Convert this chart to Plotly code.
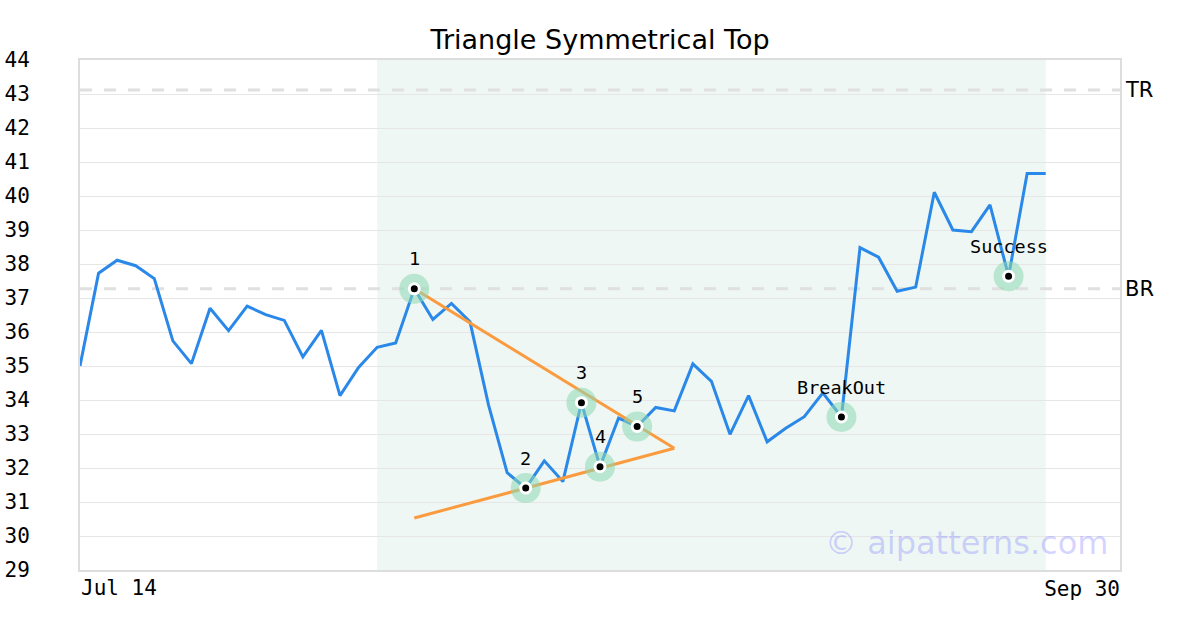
import plotly.graph_objects as go

# ---- data ----
title_text = "Triangle Symmetrical Top"
first_label = "Jul 14"
last_label = "Sep 30"
axis_end_index = 56  # business days from Jul 14 to Sep 30

prices = [35.00, 37.73, 38.11, 37.95, 37.57, 35.74, 35.07, 36.70, 36.04, 36.76,
          36.51, 36.34, 35.27, 36.05, 34.13, 34.96, 35.55, 35.68, 37.27, 36.37,
          36.84, 36.30, 33.85, 31.86, 31.41, 32.21, 31.60, 33.92, 32.04, 33.47,
          33.22, 33.78, 33.68, 35.06, 34.55, 32.99, 34.13, 32.77, 33.17, 33.51,
          34.21, 33.50, 38.48, 38.20, 37.20, 37.32, 40.11, 39.00, 38.95, 39.74,
          37.64, 40.66, 40.66]
x_idx = list(range(len(prices)))

TR = 43.12
BR = 37.27
zone_start, zone_end = 16, 52

point_idx = [18, 24, 27, 28, 30, 41, 50]
point_labels = ["1", "2", "3", "4", "5", "BreakOut", "Success"]

upper_x = [18, 32]
upper_y = [37.27, 32.58]
lower_x = [18, 32]
lower_y = [30.53, 32.58]

y_min, y_max = 29, 44
y_ticks = list(range(29, 45))

# ---- styles ----
BLUE = "#2a88e8"
ORANGE = "#fb9b40"
MONO = "DejaVu Sans Mono"
SANS = "DejaVu Sans"

fig = go.Figure()

fig.add_trace(go.Scatter(x=x_idx, y=prices, mode="lines",
                         line=dict(color=BLUE, width=3), hoverinfo="skip"))
fig.add_trace(go.Scatter(x=upper_x, y=upper_y, mode="lines",
                         line=dict(color=ORANGE, width=3), hoverinfo="skip"))
fig.add_trace(go.Scatter(x=lower_x, y=lower_y, mode="lines",
                         line=dict(color=ORANGE, width=3), hoverinfo="skip"))

px_ = point_idx
py_ = [prices[i] for i in point_idx]
fig.add_trace(go.Scatter(x=px_, y=py_, mode="markers",
                         marker=dict(size=30, color="rgba(140,217,179,0.55)", line=dict(width=0)),
                         hoverinfo="skip"))
fig.add_trace(go.Scatter(x=px_, y=py_, mode="markers",
                         marker=dict(size=10, color="black", line=dict(width=3, color="white")),
                         hoverinfo="skip"))

for xi, yi, lab in zip(px_, py_, point_labels):
    fig.add_annotation(x=xi, y=yi, text=lab, showarrow=False, yshift=30,
                       xanchor="center", yanchor="middle",
                       font=dict(family=MONO, size=18.5, color="black"))

# shaded zone
fig.add_shape(type="rect", xref="x", yref="paper", x0=zone_start, x1=zone_end, y0=0, y1=1,
              fillcolor="#eef7f3", line=dict(width=0), layer="below")

# TR / BR dashed lines
for val, name in [(TR, "TR"), (BR, "BR")]:
    fig.add_shape(type="line", xref="paper", yref="y", x0=0, x1=1, y0=val, y1=val,
                  line=dict(color="#e0e0e0", width=3, dash="12px,12px"), layer="below")
    fig.add_annotation(xref="paper", yref="y", x=1, y=val, text=name, showarrow=False,
                       xanchor="left", yanchor="middle", xshift=3,
                       font=dict(family=SANS, size=21, color="black"))

# watermark
fig.add_annotation(xref="paper", yref="paper", x=0.99, y=0.053, text="© aipatterns.com",
                   showarrow=False, xanchor="right", yanchor="middle",
                   font=dict(family=SANS, size=32, color="rgba(120,120,255,0.33)"))

fig.update_layout(
    width=1200, height=630,
    margin=dict(l=80, r=80, t=60, b=60),
    paper_bgcolor="white", plot_bgcolor="white",
    showlegend=False,
    title=dict(text=title_text, x=0.5, xanchor="center", y=1 - 40 / 630, yanchor="middle",
               font=dict(family=SANS, size=27, color="black")),
    xaxis=dict(range=[0, axis_end_index], tickvals=[0], ticktext=[first_label], automargin=False,
               ticklabelposition="outside right", ticks="", showgrid=False, zeroline=False,
               showline=True, mirror=True, linecolor="#dddddd", linewidth=2,
               tickfont=dict(family=MONO, size=21, color="black"), ticklabelstandoff=-2),
    xaxis2=dict(range=[0, axis_end_index], overlaying="x", matches="x", side="bottom",
                tickvals=[axis_end_index], ticktext=[last_label], automargin=False,
                ticklabelposition="outside left", ticks="", showgrid=False, zeroline=False,
                showline=False, tickfont=dict(family=MONO, size=21, color="black"),
                ticklabelstandoff=4),
    yaxis=dict(range=[y_min, y_max], tickvals=y_ticks, ticks="", showgrid=True, automargin=False,
               gridcolor="#e6e6e6", gridwidth=1, zeroline=False,
               showline=True, mirror=True, linecolor="#dddddd", linewidth=2,
               tickfont=dict(family=MONO, size=21, color="black"), ticklabelstandoff=44),
)

fig.add_trace(go.Scatter(x=[0], y=[y_min], xaxis="x2", mode="markers",
                         marker=dict(opacity=0), hoverinfo="skip"))

fig.write_html("out.html", config={"displayModeBar": False},
               post_script="document.body.style.margin='0';")
